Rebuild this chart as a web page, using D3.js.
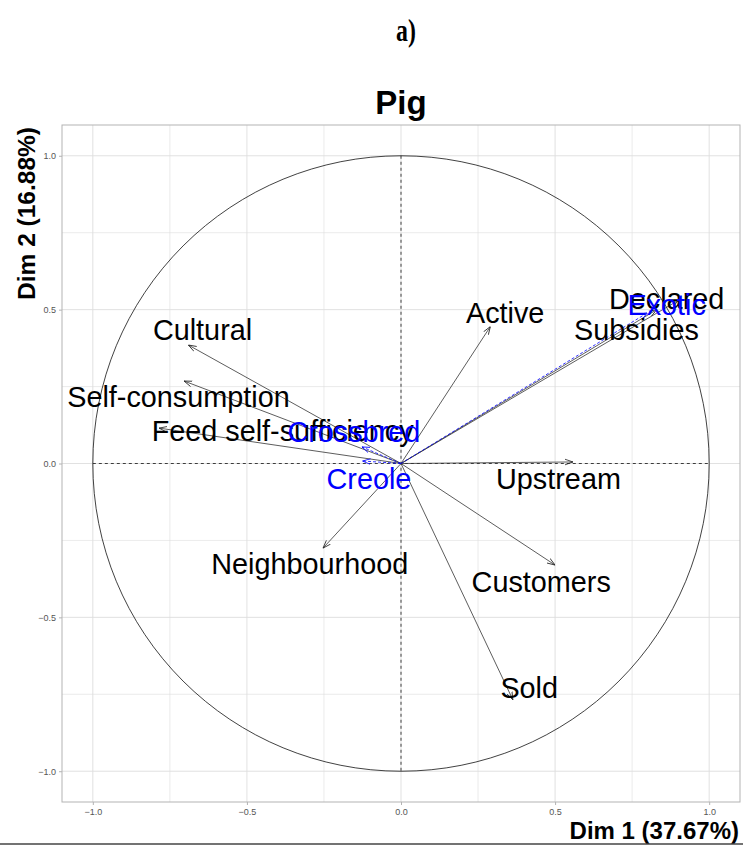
<!DOCTYPE html>
<html lang="en">
<head>
    <meta charset="UTF-8">
    <title>Pig - PCA variables</title>
    <script src="https://cdnjs.cloudflare.com/ajax/libs/d3/7.8.5/d3.min.js"></script>
    <style>
        body { margin: 0; background: #fff; }
        svg { display: block; }
        .tick text { font-family: "Liberation Sans", Arial, sans-serif; }
    </style>
</head>
<body>
<div id="chart"></div>
<script>
    // active variables: arrow end (dim1, dim2) and label position
    const varNames = ["Declared", "Subsidies", "Active", "Cultural", "Self-consumption",
        "Feed self-sufficiency", "Upstream", "Customers", "Sold", "Neighbourhood"];
    const varDim1 = [0.90, 0.83, 0.29, -0.69, -0.704, -0.785, 0.558, 0.50, 0.363, -0.253];
    const varDim2 = [0.53, 0.50, 0.445, 0.385, 0.268, 0.115, 0.005, -0.33, -0.768, -0.275];
    const varLabelX = [0.862, 0.764, 0.338, -0.644, -0.722, -0.384, 0.511, 0.455, 0.416, -0.296];
    const varLabelY = [0.533, 0.433, 0.488, 0.433, 0.215, 0.104, -0.049, -0.384, -0.728, -0.325];

    // supplementary variables (blue, dashed)
    const supNames = ["Exotic", "Crossbred", "Creole"];
    const supDim1 = [0.80, -0.127, -0.125];
    const supDim2 = [0.49, 0.054, 0.008];
    const supLabelX = [0.862, -0.153, -0.104];
    const supLabelY = [0.514, 0.101, -0.049];

    const tickValues = [-1.0, -0.5, 0.0, 0.5, 1.0];
    const gridValues = [-1.0, -0.75, -0.5, -0.25, 0.0, 0.25, 0.5, 0.75, 1.0];

    const W = 743, H = 845;
    const panel = { left: 62, right: 740, top: 125, bottom: 802 };

    const svg = d3.select("#chart").append("svg")
        .attr("width", W)
        .attr("height", H);

    const x = d3.scaleLinear().domain([-1.1, 1.1]).range([panel.left, panel.right]);
    const y = d3.scaleLinear().domain([-1.1, 1.1]).range([panel.bottom, panel.top]);

    const defs = svg.append("defs");
    function marker(id, color) {
        defs.append("marker")
            .attr("id", id)
            .attr("viewBox", "0 0 10 10")
            .attr("refX", 10)
            .attr("refY", 5)
            .attr("markerWidth", 8)
            .attr("markerHeight", 8)
            .attr("markerUnits", "userSpaceOnUse")
            .attr("orient", "auto")
            .append("path")
            .attr("d", "M0,1.5 L10,5 L0,8.5")
            .attr("fill", "none")
            .attr("stroke", color)
            .attr("stroke-width", 1);
    }
    marker("arrBlack", "#222");
    marker("arrBlue", "#0000ff");

    // grid
    const grid = svg.append("g");
    grid.selectAll(".vg").data(gridValues).enter().append("line")
        .attr("x1", d => x(d)).attr("x2", d => x(d))
        .attr("y1", panel.top).attr("y2", panel.bottom)
        .attr("stroke", "#dedede").attr("stroke-width", d => Math.abs(d * 2) % 1 === 0 ? 0.9 : 0.6);
    grid.selectAll(".hg").data(gridValues).enter().append("line")
        .attr("y1", d => y(d)).attr("y2", d => y(d))
        .attr("x1", panel.left).attr("x2", panel.right)
        .attr("stroke", "#dedede").attr("stroke-width", d => Math.abs(d * 2) % 1 === 0 ? 0.9 : 0.6);

    svg.append("rect")
        .attr("x", panel.left).attr("y", panel.top)
        .attr("width", panel.right - panel.left)
        .attr("height", panel.bottom - panel.top)
        .attr("fill", "none")
        .attr("stroke", "#b3b3b3")
        .attr("stroke-width", 1);

    // axes
    const xAxis = svg.append("g")
        .attr("transform", `translate(0,${panel.bottom})`)
        .call(d3.axisBottom(x).tickValues(tickValues).tickFormat(d3.format(".1f")).tickSize(3).tickSizeOuter(0));
    const yAxis = svg.append("g")
        .attr("transform", `translate(${panel.left},0)`)
        .call(d3.axisLeft(y).tickValues(tickValues).tickFormat(d3.format(".1f")).tickSize(3).tickSizeOuter(0));
    [xAxis, yAxis].forEach(a => {
        a.select(".domain").remove();
        a.selectAll(".tick line").attr("stroke", "#b3b3b3");
        a.selectAll(".tick text").attr("fill", "#555").style("font-size", "9px");
    });
    xAxis.selectAll(".tick text").attr("dy", "0.8em");

    // correlation circle
    svg.append("ellipse")
        .attr("cx", x(0)).attr("cy", y(0))
        .attr("rx", x(1) - x(0)).attr("ry", y(0) - y(1))
        .attr("fill", "none")
        .attr("stroke", "#111")
        .attr("stroke-width", 0.8);

    svg.append("line")
        .attr("x1", x(-1)).attr("x2", x(1)).attr("y1", y(0)).attr("y2", y(0))
        .attr("stroke", "#111").attr("stroke-width", 0.8).attr("stroke-dasharray", "3,3");
    svg.append("line")
        .attr("x1", x(0)).attr("x2", x(0)).attr("y1", y(1)).attr("y2", y(-1))
        .attr("stroke", "#111").attr("stroke-width", 0.8).attr("stroke-dasharray", "3,3");

    const vars = varNames.map((n, i) => ({ name: n, d1: varDim1[i], d2: varDim2[i], lx: varLabelX[i], ly: varLabelY[i] }));
    const sups = supNames.map((n, i) => ({ name: n, d1: supDim1[i], d2: supDim2[i], lx: supLabelX[i], ly: supLabelY[i] }));

    svg.selectAll(".var-arrow").data(vars).enter().append("line")
        .attr("class", "var-arrow")
        .attr("x1", x(0)).attr("y1", y(0))
        .attr("x2", d => x(d.d1)).attr("y2", d => y(d.d2))
        .attr("stroke", "#333")
        .attr("stroke-width", 0.8)
        .attr("marker-end", "url(#arrBlack)");

    svg.selectAll(".sup-arrow").data(sups).enter().append("line")
        .attr("class", "sup-arrow")
        .attr("x1", x(0)).attr("y1", y(0))
        .attr("x2", d => x(d.d1)).attr("y2", d => y(d.d2))
        .attr("stroke", "#0000ff")
        .attr("stroke-width", 0.8)
        .attr("stroke-dasharray", "3,2")
        .attr("marker-end", "url(#arrBlue)");

    const labelFont = "'Liberation Sans', Arial, sans-serif";
    svg.selectAll(".var-label").data(vars).enter().append("text")
        .attr("x", d => x(d.lx)).attr("y", d => y(d.ly))
        .attr("text-anchor", "middle")
        .attr("dominant-baseline", "central")
        .style("font-family", labelFont)
        .style("font-size", "28.8px")
        .attr("fill", "#000")
        .text(d => d.name);

    svg.selectAll(".sup-label").data(sups).enter().append("text")
        .attr("x", d => x(d.lx)).attr("y", d => y(d.ly))
        .attr("text-anchor", "middle")
        .attr("dominant-baseline", "central")
        .style("font-family", labelFont)
        .style("font-size", "28.8px")
        .attr("fill", "#0000ff")
        .text(d => d.name);

    // titles
    svg.append("text")
        .attr("transform", "translate(406,41) scale(0.85,1.15)")
        .attr("text-anchor", "middle")
        .style("font-family", "'Liberation Serif', 'Times New Roman', serif")
        .style("font-weight", "bold")
        .style("font-size", "28px")
        .text("a)");

    svg.append("text")
        .attr("x", x(0)).attr("y", 114)
        .attr("text-anchor", "middle")
        .style("font-family", labelFont)
        .style("font-weight", "bold")
        .style("font-size", "33px")
        .text("Pig");

    svg.append("text")
        .attr("transform", `translate(35,${panel.top + 2}) rotate(-90)`)
        .attr("text-anchor", "end")
        .style("font-family", labelFont)
        .style("font-weight", "bold")
        .style("font-size", "24.5px")
        .text("Dim 2 (16.88%)");

    svg.append("text")
        .attr("x", panel.right - 1).attr("y", 839)
        .attr("text-anchor", "end")
        .style("font-family", labelFont)
        .style("font-weight", "bold")
        .style("font-size", "24px")
        .text("Dim 1 (37.67%)");

    svg.append("line")
        .attr("x1", 0).attr("x2", W).attr("y1", 844).attr("y2", 844)
        .attr("stroke", "#444").attr("stroke-width", 1.5);
</script>
</body>
</html>
